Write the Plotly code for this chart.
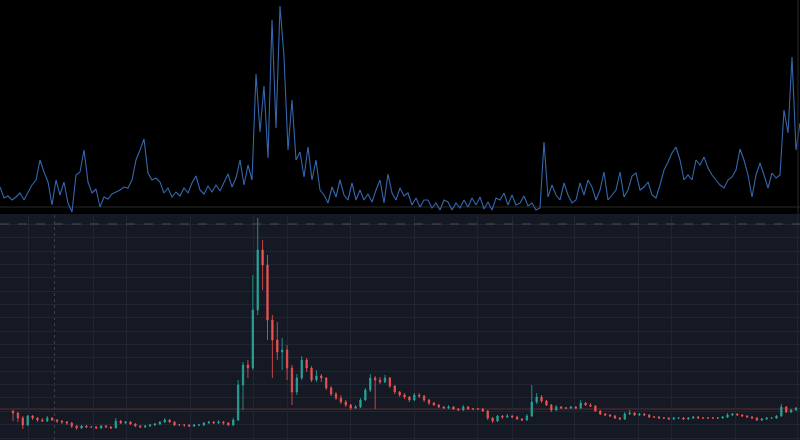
import plotly.graph_objects as go

# ---------------- data ----------------
# upper panel: activity line (arbitrary units)
line_values = [
    28, 17, 19, 15, 18, 22, 15, 23, 30, 35, 55, 43, 33, 10, 35, 20, 33, 12, 3, 40,
    43, 65, 33, 22, 26, 8, 18, 16, 21, 23, 25, 28, 27, 35, 55, 65, 76, 42, 35, 37,
    33, 22, 27, 18, 23, 19, 27, 22, 32, 39, 25, 21, 29, 23, 30, 24, 33, 41, 28, 37,
    55, 30, 50, 35, 141, 83, 129, 57, 195, 87, 209, 158, 65, 115, 55, 63, 38, 68, 35, 55,
    25, 20, 12, 28, 18, 35, 20, 15, 32, 15, 25, 15, 21, 13, 25, 35, 12, 41, 22, 15,
    27, 19, 22, 10, 17, 8, 15, 15, 7, 12, 5, 15, 13, 5, 12, 7, 15, 8, 17, 10,
    18, 6, 13, 5, 17, 15, 22, 10, 20, 10, 12, 19, 9, 12, 5, 7, 73, 18, 30, 20,
    15, 32, 20, 12, 15, 32, 20, 35, 28, 15, 25, 43, 15, 20, 25, 43, 18, 25, 39, 42,
    25, 28, 33, 20, 17, 30, 45, 53, 62, 68, 55, 35, 40, 35, 55, 50, 58, 47, 40, 35,
    30, 27, 35, 38, 45, 66, 55, 40, 18, 40, 52, 40, 27, 42, 37, 40, 105, 82, 158, 65,
    92,
]
line_index = list(range(len(line_values)))
baseline_level = 8

# lower panel: OHLC candles (price units)
opens = [
    29, 27, 22, 15, 24, 22, 20, 19, 22, 20, 19, 18, 17, 14, 12, 14, 13, 13, 12, 14,
    13, 12, 19, 17, 18, 16, 14, 13, 14, 15, 16, 18, 20, 18, 15, 15, 15, 14, 15, 15,
    17, 18, 17, 18, 17, 15, 20, 55, 75, 72, 130, 190, 175, 120, 100, 88, 90, 72, 48, 62,
    80, 72, 60, 64, 62, 52, 46, 42, 38, 35, 32, 33, 40, 50, 62, 60, 58, 62, 54, 48,
    45, 43, 40, 45, 44, 40, 37, 35, 33, 32, 33, 31, 30, 33, 31, 31, 31, 29, 22, 19,
    24, 23, 24, 23, 21, 20, 24, 38, 43, 39, 35, 30, 33, 32, 32, 33, 32, 37, 35, 34,
    29, 26, 25, 24, 22, 21, 26, 27, 25, 26, 25, 23, 23, 22, 22, 21, 22, 22, 21, 22,
    23, 22, 22, 22, 22, 22, 23, 25, 26, 25, 24, 23, 22, 20, 21, 22, 22, 24, 33, 28,
    30,
]
highs = [
    30, 28, 24, 25, 25, 23, 22, 24, 23, 21, 20, 19, 18, 15, 15, 15, 14, 14, 15, 15,
    14, 22, 20, 19, 19, 17, 15, 15, 16, 17, 19, 22, 21, 19, 16, 16, 16, 16, 16, 18,
    19, 19, 20, 19, 18, 22, 60, 78, 80, 165, 222, 200, 185, 125, 118, 102, 95, 75, 66, 84,
    82, 74, 70, 66, 63, 54, 48, 45, 40, 36, 35, 42, 52, 66, 64, 63, 65, 63, 55, 49,
    47, 44, 47, 47, 45, 41, 38, 36, 34, 35, 34, 32, 35, 34, 32, 32, 32, 30, 23, 25,
    25, 26, 25, 24, 22, 26, 55, 47, 45, 40, 36, 35, 34, 33, 34, 34, 40, 38, 37, 35,
    30, 27, 26, 25, 23, 28, 30, 28, 27, 27, 26, 24, 24, 23, 23, 23, 23, 23, 23, 24,
    24, 23, 23, 23, 23, 24, 27, 27, 27, 26, 25, 24, 23, 22, 23, 23, 25, 36, 34, 31,
    33,
]
lows = [
    19, 18, 11, 14, 20, 18, 18, 18, 19, 17, 16, 15, 12, 10, 11, 12, 12, 11, 11, 12,
    11, 12, 16, 16, 15, 13, 12, 12, 13, 14, 15, 17, 17, 14, 14, 13, 13, 13, 14, 14,
    16, 16, 16, 15, 14, 14, 19, 30, 62, 70, 125, 150, 100, 62, 80, 70, 60, 35, 45, 60,
    68, 58, 58, 58, 50, 44, 40, 36, 33, 30, 31, 32, 39, 48, 31, 56, 57, 52, 46, 43,
    41, 38, 39, 42, 38, 35, 34, 32, 31, 31, 30, 29, 29, 30, 30, 30, 28, 20, 17, 18,
    21, 22, 22, 20, 19, 19, 23, 36, 37, 34, 28, 29, 31, 31, 31, 31, 31, 34, 33, 28,
    25, 24, 23, 21, 20, 20, 25, 24, 24, 24, 22, 22, 21, 21, 20, 20, 21, 20, 20, 21,
    21, 21, 21, 21, 21, 21, 22, 24, 24, 23, 22, 21, 19, 19, 20, 21, 21, 23, 27, 27,
    29,
]
closes = [
    27, 22, 15, 24, 22, 20, 19, 22, 20, 19, 18, 17, 14, 12, 14, 13, 13, 12, 14, 13,
    12, 19, 17, 18, 16, 14, 13, 14, 15, 16, 18, 20, 18, 15, 15, 15, 14, 15, 15, 17,
    18, 17, 18, 17, 15, 20, 55, 75, 72, 130, 190, 175, 120, 100, 88, 90, 72, 48, 62, 80,
    72, 60, 64, 62, 52, 46, 42, 38, 35, 32, 33, 40, 50, 62, 60, 58, 62, 54, 48, 45,
    43, 40, 45, 44, 40, 37, 35, 33, 32, 33, 31, 30, 33, 31, 31, 31, 29, 22, 19, 24,
    23, 24, 23, 21, 20, 24, 38, 43, 39, 35, 30, 33, 32, 32, 33, 32, 37, 35, 34, 29,
    26, 25, 24, 22, 21, 26, 27, 25, 26, 25, 23, 23, 22, 22, 21, 22, 22, 21, 22, 23,
    22, 22, 22, 22, 22, 23, 25, 26, 25, 24, 23, 22, 20, 21, 22, 22, 24, 33, 28, 30,
    32,
]
candle_index = list(range(len(closes)))
last_price_level = 31
marker_level = 216

# grid positions (candle index units)
grid_x = [3.17, 16.35, 23.09, 36.17, 49.24, 55.99, 68.86, 81.94, 95.0, 101.96,
          114.83, 127.9, 134.65, 147.73, 160.4]
crosshair_x = 8.48

# ---------------- styles ----------------
BG_BOTTOM = "#151924"
BG_TOP = "#000000"
GRID = "#212533"
UP = "#26a69a"
DOWN = "#ef5350"
LINE = "#3467ad"

TOP_DOMAIN = [1 - 214 / 440, 1]
BOT_DOMAIN = [0, 225 / 440]

fig = go.Figure()

fig.add_trace(go.Scatter(
    x=line_index, y=line_values, mode="lines",
    line=dict(color=LINE, width=1.1),
    xaxis="x2", yaxis="y2", hoverinfo="skip", showlegend=False,
))

fig.add_trace(go.Candlestick(
    x=candle_index, open=opens, high=highs, low=lows, close=closes,
    increasing=dict(line=dict(color=UP, width=0.8), fillcolor=UP),
    decreasing=dict(line=dict(color=DOWN, width=0.8), fillcolor=DOWN),
    whiskerwidth=0, xaxis="x", yaxis="y", showlegend=False,
))

fig.update_layout(
    width=800, height=440,
    margin=dict(l=0, r=0, t=0, b=0),
    paper_bgcolor=BG_BOTTOM,
    plot_bgcolor=BG_BOTTOM,
    showlegend=False,
    boxgap=0.6,
    xaxis=dict(domain=[0, 1], range=[-2.66, 160.81], showticklabels=False,
               tickmode="array", tickvals=grid_x, showgrid=True, gridcolor=GRID,
               gridwidth=1, zeroline=False, rangeslider=dict(visible=False),
               anchor="y", fixedrange=True),
    yaxis=dict(domain=BOT_DOMAIN, range=[0, 225], showticklabels=False,
               tick0=2, dtick=13.35, showgrid=True, gridcolor=GRID, gridwidth=1,
               zeroline=False, anchor="x"),
    xaxis2=dict(domain=[0, 1], range=[0, 200], showticklabels=False,
                showgrid=False, zeroline=False, anchor="y2"),
    yaxis2=dict(domain=TOP_DOMAIN, range=[1, 215], showticklabels=False,
                showgrid=False, zeroline=False, anchor="x2"),
)

# black background for the upper panel
fig.add_shape(type="rect", xref="paper", yref="paper", x0=0, x1=1,
              y0=TOP_DOMAIN[0], y1=1, fillcolor=BG_TOP, line=dict(width=0),
              layer="below")
# baseline in the upper panel
fig.add_shape(type="line", xref="x2 domain", yref="y2", x0=0, x1=1,
              y0=baseline_level, y1=baseline_level,
              line=dict(color="#2a2a2a", width=1), layer="below")
# right border of the upper panel
fig.add_shape(type="line", xref="paper", yref="paper", x0=0.9975, x1=0.9975,
              y0=TOP_DOMAIN[0], y1=1, line=dict(color="#2a2a2a", width=1))
# last price line
fig.add_shape(type="line", xref="x domain", yref="y", x0=0, x1=1,
              y0=last_price_level, y1=last_price_level,
              line=dict(color="rgba(239,83,80,0.35)", width=1), layer="below")
# dashed marker line
fig.add_shape(type="line", xref="x domain", yref="y", x0=0, x1=1,
              y0=marker_level, y1=marker_level,
              line=dict(color="#4a4f5c", width=1, dash="dash"))
# dotted crosshair
fig.add_shape(type="line", xref="x", yref="y domain", x0=crosshair_x, x1=crosshair_x,
              y0=0, y1=1, line=dict(color="#3a3f4c", width=1, dash="dot"),
              layer="below")

fig.write_html("out.html", config={"displayModeBar": False},
               post_script="document.body.style.margin='0';")
